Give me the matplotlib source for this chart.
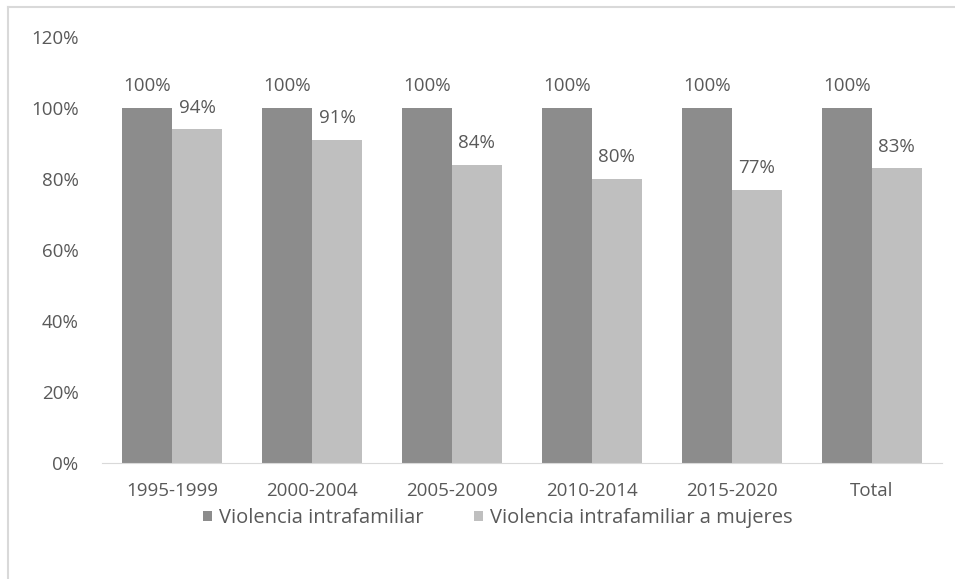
import matplotlib.pyplot as plt
from matplotlib.lines import Line2D
import numpy as np

categories = ['1995-1999', '2000-2004', '2005-2009', '2010-2014', '2015-2020', 'Total']
violencia = [100, 100, 100, 100, 100, 100]
violencia_mujeres = [94, 91, 84, 80, 77, 83]
series_names = ['Violencia intrafamiliar', 'Violencia intrafamiliar a mujeres']

plt.rcParams['font.family'] = ['Open Sans', 'DejaVu Sans']
text_color = '#595959'
dark = '#8c8c8c'
light = '#bfbfbf'
fs = 13.5

fig = plt.figure(figsize=(9.55, 5.79), dpi=100)
ax = fig.add_axes([0.107, 0.2003, 0.879, 0.7357])

x = np.arange(len(categories))
w = 0.357
b1 = ax.bar(x - w / 2, violencia, w, color=dark, label=series_names[0])
b2 = ax.bar(x + w / 2, violencia_mujeres, w, color=light, label=series_names[1])

for bars, vals in ((b1, violencia), (b2, violencia_mujeres)):
    for rect, v in zip(bars, vals):
        ax.annotate(f'{v}%', (rect.get_x() + rect.get_width() / 2, v),
                    xytext=(0, 12), textcoords='offset points',
                    ha='center', va='baseline', fontsize=fs, color=text_color)

ax.set_xlim(-0.5, len(categories) - 0.5)
ax.set_ylim(0, 120)
ax.set_yticks(range(0, 121, 20))
ax.set_yticklabels([f'{t}%' for t in range(0, 121, 20)])
ax.set_xticks(x)
ax.set_xticklabels(categories)
ax.tick_params(axis='both', length=0, labelsize=fs, labelcolor=text_color)
ax.tick_params(axis='x', pad=14)
ax.tick_params(axis='y', pad=17)
for s in ['top', 'right', 'left']:
    ax.spines[s].set_visible(False)
ax.spines['bottom'].set_color('#d9d9d9')

leg = fig.legend(handles=[b1, b2], loc='center', bbox_to_anchor=(0.521, 0.105),
                 ncol=2, frameon=False, fontsize=14.5, handlelength=0.45,
                 handleheight=0.45, handletextpad=0.35, columnspacing=2.5)
for t in leg.get_texts():
    t.set_color(text_color)

# outer chart border: only top and left edges are inside the picture
fig.add_artist(Line2D([8 / 955, 1], [1 - 7 / 579, 1 - 7 / 579],
                      transform=fig.transFigure, color='#d9d9d9', lw=1.5))
fig.add_artist(Line2D([8 / 955, 8 / 955], [0, 1 - 7 / 579],
                      transform=fig.transFigure, color='#d9d9d9', lw=1.5))

fig.savefig('out.png', dpi=100)
